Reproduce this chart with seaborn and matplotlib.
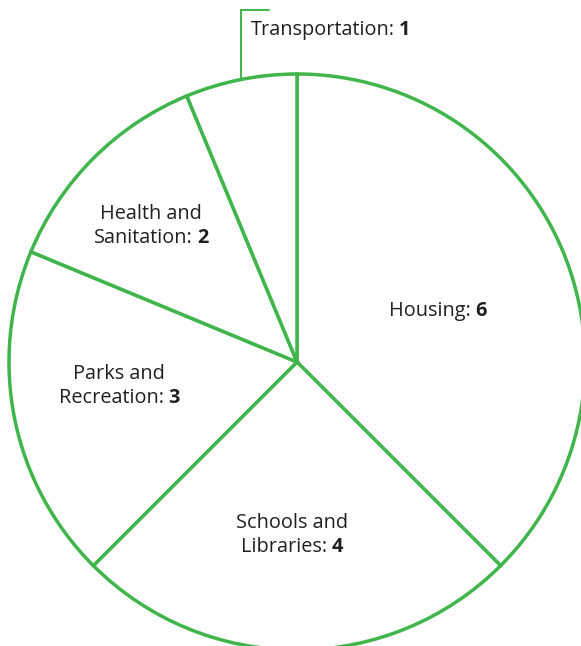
import matplotlib
matplotlib.use("Agg")
import matplotlib.pyplot as plt
import seaborn as sns
import numpy as np

# data
categories = ["Housing", "Schools and\nLibraries", "Parks and\nRecreation",
              "Health and\nSanitation", "Transportation"]
counts = [6, 4, 3, 2, 1]

# layout (pixel positions of label centres, y measured from top)
label_pos = [(438, 311), (292, 535), (119, 386), (151, 226), None]
W, H = 581, 646
cx, cy, R = 297, 362, 288
green = "#3fb54b"
ink = "#231f20"
fs = 14.3

sns.set_theme(style="white")
plt.rcParams["font.family"] = ["Open Sans", "DejaVu Sans"]

fig = plt.figure(figsize=(W / 100, H / 100), dpi=100)
ax = fig.add_axes([0, 0, 1, 1])

ax.pie(counts, startangle=90, counterclock=False, radius=R, center=(cx, H - cy),
       colors=["white"] * len(counts),
       wedgeprops=dict(edgecolor=green, linewidth=2.5, joinstyle="miter"))
ax.set_xlim(0, W)
ax.set_ylim(0, H)
ax.set_aspect("equal")
ax.axis("off")

renderer = fig.canvas.get_renderer()


def width_of(s, weight):
    t = ax.text(0, 0, s, fontsize=fs, fontweight=weight)
    w = t.get_window_extent(renderer).width
    t.remove()
    return w


def mixed_line(x, y, normal, bold, align="center"):
    wn = width_of(normal, "normal")
    gap = fs * 0.3
    wb = width_of(bold, "bold")
    total = wn + gap + wb
    x0 = x - total / 2 if align == "center" else x
    ax.text(x0, y, normal, fontsize=fs, color=ink, ha="left", va="center")
    ax.text(x0 + wn + gap, y, bold, fontsize=fs, color=ink, ha="left",
            va="center", fontweight="bold")


line_gap = 24
for name, n, pos in zip(categories, counts, label_pos):
    if pos is None:
        continue
    lines = name.split("\n")
    x, y = pos
    y = H - y
    top = y + line_gap * (len(lines) - 1) / 2
    for i, ln in enumerate(lines[:-1]):
        ax.text(x, top - i * line_gap, ln, fontsize=fs, color=ink,
                ha="center", va="center")
    mixed_line(x, top - (len(lines) - 1) * line_gap, lines[-1] + ":", str(n))

# leader for the small slice
total = sum(counts)
mid = 90 - 360 * (total - counts[-1] / 2) / total
px = cx + R * np.cos(np.radians(mid))
py = H - cy + R * np.sin(np.radians(mid))
ax.plot([px, px, px + 28], [py, H - 10, H - 10], color=green, lw=1.4,
        solid_joinstyle="miter")
mixed_line(px + 10, H - 30, categories[-1] + ":", str(counts[-1]), align="left")

fig.savefig("out.png", dpi=100, facecolor="white")
